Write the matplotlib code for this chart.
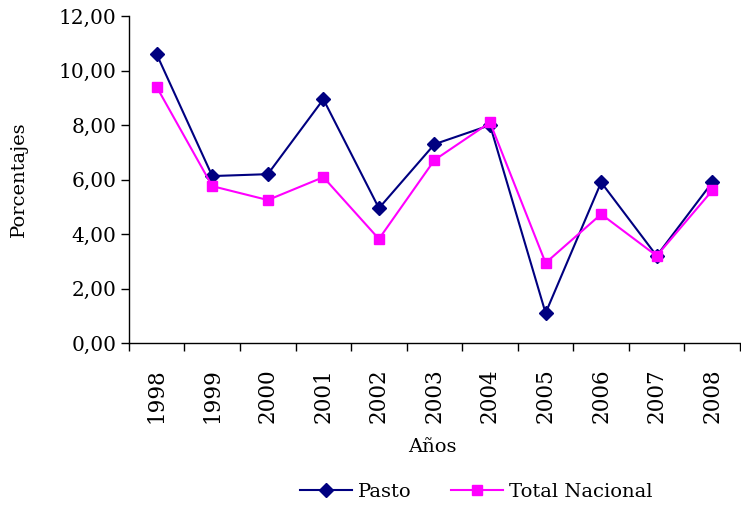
import numpy as np
import matplotlib
matplotlib.use('Agg')
import matplotlib.pyplot as plt
from matplotlib.ticker import FixedLocator, FuncFormatter

plt.rcParams['font.family'] = ['DejaVu Serif']

# ====================================
# Data
# ====================================
years = ['1998', '1999', '2000', '2001', '2002', '2003', '2004', '2005', '2006', '2007', '2008']
pasto = [10.60, 6.13, 6.20, 8.95, 4.95, 7.30, 8.00, 1.10, 5.90, 3.20, 5.90]
nacional = [9.40, 5.76, 5.25, 6.09, 3.82, 6.72, 8.10, 2.94, 4.73, 3.20, 5.60]
yticks = [0, 2, 4, 6, 8, 10, 12]

# ====================================
# Figure
# ====================================
fig = plt.figure(figsize=(7.41, 5.07), dpi=100)
ax = fig.add_axes([0.174, 0.3235, 0.8247, 0.6445])

x = np.arange(len(years))
ax.plot(x, pasto, color='#000080', marker='D', markersize=7, linewidth=1.5, label='Pasto')
ax.plot(x, nacional, color='#FF00FF', marker='s', markersize=7, linewidth=1.5, label='Total Nacional')

ax.set_xlim(-0.5, len(years) - 0.5)
ax.set_ylim(0, 12)

# y axis
ax.set_yticks(yticks)
ax.yaxis.set_major_formatter(FuncFormatter(lambda v, p: '{:.2f}'.format(v).replace('.', ',')))
ax.tick_params(axis='y', direction='out', length=6, width=1, labelsize=14.5, pad=3)

# x axis: ticks between categories, labels at centres
ax.xaxis.set_major_locator(FixedLocator(np.arange(len(years) + 1) - 0.5))
ax.xaxis.set_major_formatter(FuncFormatter(lambda v, p: ''))
ax.xaxis.set_minor_locator(FixedLocator(x))
ax.set_xticklabels(years, minor=True, rotation=90, fontsize=15.5)
ax.tick_params(axis='x', which='minor', length=0, pad=18)
ax.tick_params(axis='x', which='major', direction='out', length=6, width=1)

for s in ['top', 'right']:
    ax.spines[s].set_visible(False)
for s in ['left', 'bottom']:
    ax.spines[s].set_linewidth(1)

ax.set_ylabel('Porcentajes', fontsize=14, labelpad=22)
fig.text(432 / 741, 1 - 447 / 507, 'Años', fontsize=14, ha='center', va='center')

fig.legend(loc='center', bbox_to_anchor=(476 / 741, 1 - 492 / 507), ncol=2, frameon=False,
           fontsize=14, handlelength=2.7, columnspacing=2.0, handletextpad=0.3)

fig.savefig('out.png', dpi=100)
